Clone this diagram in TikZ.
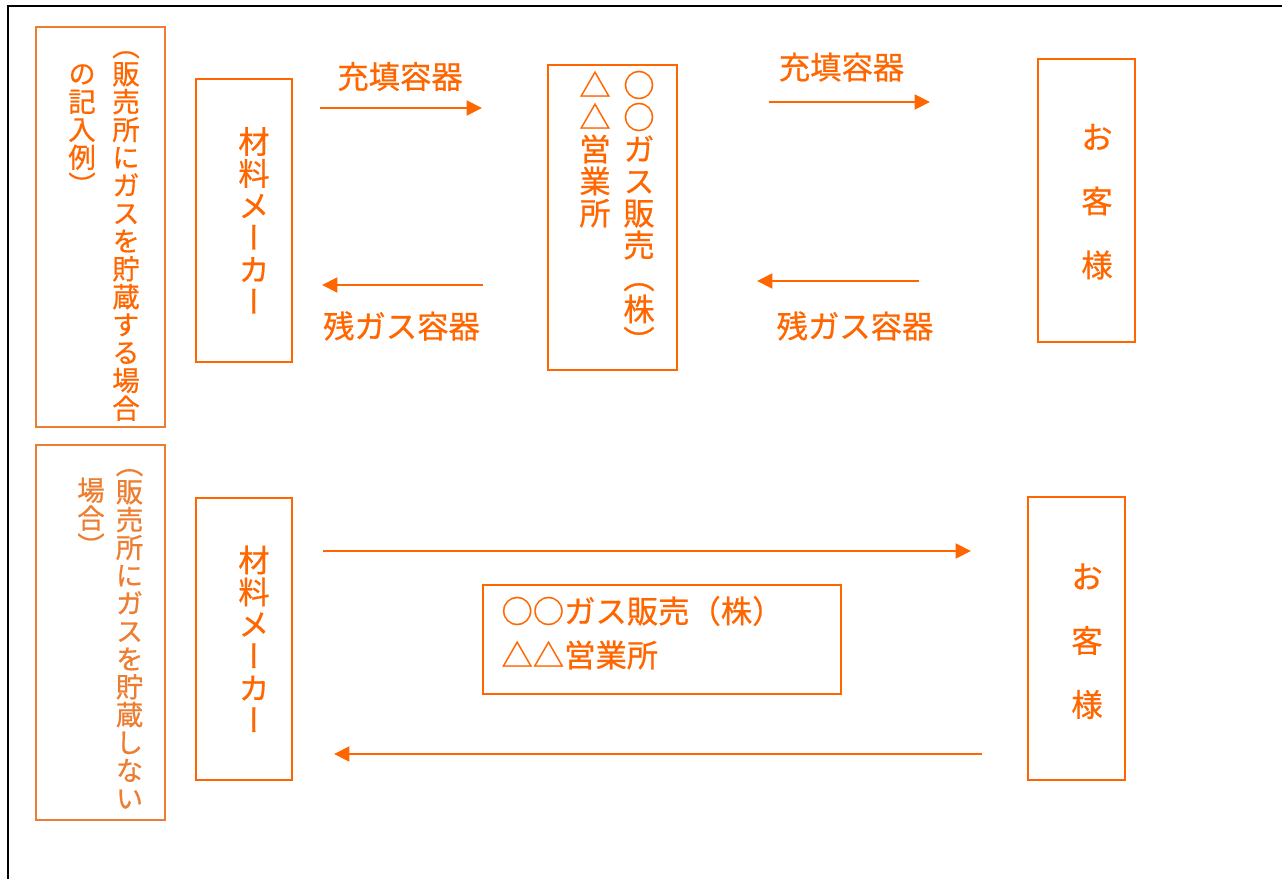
\documentclass[tikz,border=0pt]{standalone}
\usepackage{fontspec}
\newfontfamily\jp[FakeBold=0.6]{Noto Sans CJK JP}
\newfontfamily\jpv[RawFeature=+vert,FakeBold=0.6]{Noto Sans CJK JP}
\usetikzlibrary{arrows.meta}
\definecolor{org}{RGB}{255,102,0}
\definecolor{lorg}{RGB}{237,125,49}
\newcommand\es{\rule[-0.12em]{0pt}{1em}}
\begin{document}
\begin{tikzpicture}[x=0.75pt,y=-0.75pt,
  frame/.style={line width=1.3pt, draw=black},
  mbox/.style={draw=org, line width=1.6pt, rectangle, inner sep=0pt, outer sep=0pt},
  lbox/.style={draw=lorg, line width=1.3pt, rectangle, inner sep=0pt, outer sep=0pt},
  vtext/.style={inner sep=0pt, outer sep=0pt, align=center, text=org, font={\jpv\fontsize{23.5}{24}\selectfont\lineskiplimit=-100pt}},
  ltext/.style={inner sep=0pt, outer sep=0pt, align=center, font={\jpv\fontsize{20.6}{20.9}\selectfont\lineskiplimit=-100pt}},
  ctext/.style={inner sep=0pt, outer sep=0pt, align=center, text=org, font={\jp\fontsize{23.5}{48}\selectfont\lineskiplimit=-100pt}},
  htext/.style={inner sep=0pt, outer sep=0pt, text=org, font={\jp\fontsize{23.5}{24}\selectfont}},
  arr/.style={draw=org, line width=2.2pt, -{Triangle[length=11.5pt,width=11pt]}},
]
\useasboundingbox (0,0) rectangle (1282,879);
% frame
\coordinate (f1) at (1282,6);
\coordinate (f2) at (8,6);
\coordinate (f3) at (8,879);
\draw[frame] (f1) -- (f2) -- (f3);

% ---------- upper part ----------
\node[lbox, minimum width=129*0.75pt, minimum height=400*0.75pt] (lab1) at (100.5,227) {};
\node[ltext, text=org] (lab1r) at (126,227) {\es（\\\es 販\\\es 売\\\es 所\\\es に\\\es ガ\\\es ス\\\es を\\\es 貯\\\es 蔵\\\es す\\\es る\\\es 場\\\es 合};
\node[ltext, text=org] (lab1l) at (82,129.3) {\es の\\\es 記\\\es 入\\\es 例\\\es ）};

\node[mbox, minimum width=96*0.75pt, minimum height=283*0.75pt] (mk1) at (244,220.5) {};
\node[vtext] (mk1t) at (254,221.5) {\es 材\\\es 料\\\es メ\\\es ー\\\es カ\\\es ー};

\node[mbox, minimum width=129*0.75pt, minimum height=305*0.75pt] (sl1) at (612.5,217.5) {};
\node[vtext] (sl1r) at (639,213) {\es ○\\\es ○\\\es ガ\\\es ス\\\es 販\\\es 売\\\es （\\\es 株\\\es ）};
\node[vtext] (sl1l) at (595,149) {\es △\\\es △\\\es 営\\\es 業\\\es 所};

\node[mbox, minimum width=97*0.75pt, minimum height=283*0.75pt] (cu1) at (1086.5,200.5) {};
\node[ctext] (cu1t) at (1097,201) {\es お\\\es 客\\\es 様};

\node[htext, anchor=base] (l1) at (400,88.4) {充填容器};
\node[htext, anchor=base] (l2) at (401.5,338) {残ガス容器};
\node[htext, anchor=base] (l3) at (841.5,79) {充填容器};
\node[htext, anchor=base] (l4) at (855,338) {残ガス容器};

\coordinate (a1s) at (320,108);
\coordinate (a1e) at (482,108);
\coordinate (a2s) at (483,285);
\coordinate (a2e) at (322,285);
\coordinate (a3s) at (769,102);
\coordinate (a3e) at (930,102);
\coordinate (a4s) at (919,281);
\coordinate (a4e) at (757,281);
\draw[arr] (a1s) -- (a1e);
\draw[arr] (a2s) -- (a2e);
\draw[arr] (a3s) -- (a3e);
\draw[arr] (a4s) -- (a4e);

% ---------- lower part ----------
\node[lbox, minimum width=129*0.75pt, minimum height=375*0.75pt] (lab2) at (100.5,632.5) {};
\node[ltext, text=lorg] (lab2r) at (129.5,631) {\es（\\\es 販\\\es 売\\\es 所\\\es に\\\es ガ\\\es ス\\\es を\\\es 貯\\\es 蔵\\\es し\\\es な\\\es い};
\node[ltext, text=lorg] (lab2l) at (91,518) {\es 場\\\es 合\\\es ）};

\node[mbox, minimum width=96*0.75pt, minimum height=282*0.75pt] (mk2) at (244,639) {};
\node[vtext] (mk2t) at (254,640) {\es 材\\\es 料\\\es メ\\\es ー\\\es カ\\\es ー};

\node[mbox, minimum width=358*0.75pt, minimum height=109*0.75pt] (sl2) at (662,639.5) {};
\node[htext, align=left, anchor=west, font={\jp\fontsize{23.5}{33}\selectfont\lineskiplimit=-100pt}] (sl2t) at (501.5,633) {\es ○○ガス販売（株）\\\es △△営業所};

\node[mbox, minimum width=97*0.75pt, minimum height=283*0.75pt] (cu2) at (1076.5,638.5) {};
\node[ctext] (cu2t) at (1087,640.5) {\es お\\\es 客\\\es 様};

\coordinate (a5s) at (323,551);
\coordinate (a5e) at (971,551);
\coordinate (a6s) at (982,754);
\coordinate (a6e) at (334,754);
\draw[arr] (a5s) -- (a5e);
\draw[arr] (a6s) -- (a6e);
\end{tikzpicture}
\end{document}
